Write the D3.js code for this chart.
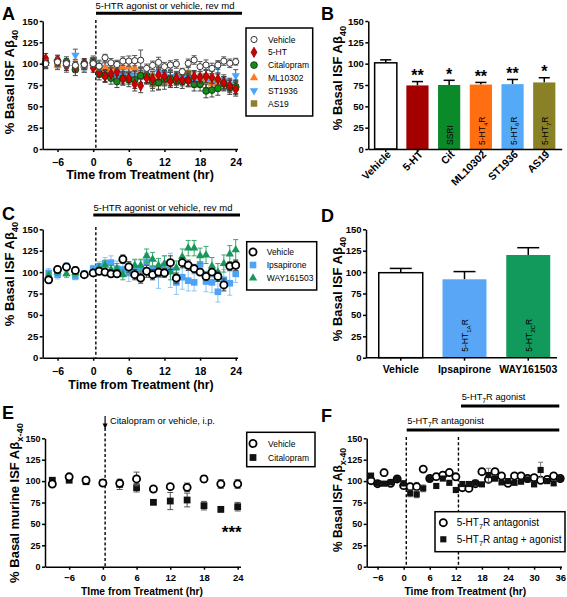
<!DOCTYPE html>
<html><head><meta charset="utf-8">
<script src="https://cdn.jsdelivr.net/npm/d3@7"></script>
<style>
body{margin:0;background:#fff}
svg{display:block}
text{font-family:"Liberation Sans",Arial,Helvetica,sans-serif}
</style>
</head><body>
<svg id="c" width="567" height="597"></svg>
<script>
// ===== DATA =====
// Panel A
const hoursA = [-8,-6,-4.5,-3,-1.5,0,1,2,3,4,5,6,7,8,9,10,11,12,13,14,15,16,17,18,19,20,21,22,23,24];
const vehA   = [100,102,100,98,99,100, 97,107,101,99,103,103,103.5,104,94.5,98,101.5,96.5,98.4,99.6,90.6,100.4,104.3,96.5,98.4,94.5,98.4,103,100.4,102.3];
const vehAe  = [5,5,5,4,4,4, 5,4,5,5,5,6,6,12,5,5,6,5,5,5,4,5,5,6,6,6,5,5,5,4];
const htA    = [106,104,98,96,100,95, 90,85,88,90,82,83,76,74,83,82,87,85,79,83,81,80,85,84,85,84,82,78,74,70];
const htAe   = [6,6,6,6,5,5, 6,7,7,7,7,7,8,8,7,7,7,7,7,7,7,7,7,7,7,7,7,7,7,8];
const citA   = [101,103,102,93,100,101, 88,86,83,79,83,81,81,86,86,79,78,82,82,80,79,81,76,76,68,69,71,77,72,73];
const citAe  = [6,6,6,7,6,5, 7,7,7,7,8,8,10,9,8,8,8,8,8,8,8,8,8,8,8,8,8,8,8,8];
const mlA    = [100,98,100,100,98,100, 93,95,94,97,96,96,95,90,88,85,87,85,84,82,82,80,85,80,78,76,77,76,74,74];
const mlAe   = [5,5,5,5,5,5, 6,6,6,6,6,6,6,6,6,6,6,6,6,6,6,6,6,6,6,6,6,6,6,6];
const stA    = [99,101,96,110,95,102, 98,96,88,85,89,88,86,89,84,84,90,88,85,82,83,84,79,80,79,77,96,80,76,86];
const stAe   = [5,5,6,7,5,5, 6,6,7,7,7,7,7,7,7,7,7,7,7,7,7,7,7,7,7,7,7,7,7,7];
const asA    = [101,101,100,96,96,104, 92,90,92,95,85,88,84,86,85,76,77,78,82,83,84,89,82,80,85,80,79,76,74,72];
const asAe   = [6,6,6,6,6,5, 7,7,7,7,8,8,8,8,8,8,8,8,8,8,8,8,8,8,8,8,8,8,8,8];
const legendA = ["Vehicle","5-HT","Citalopram","ML10302","ST1936","AS19"];

// Panel B
const catsB  = ["Vehicle","5-HT","Cit","ML10302","ST1936","AS19"];
const meanB  = [101,74.5,75,75.5,76,78];
const semB   = [3.5,4.5,5.5,2.5,5.5,5.5];
const starsB = ["","**","*","**","**","*"];
const innerB = ["","","SSRI","5-HT{4}R","5-HT{6}R","5-HT{7}R"];
const colB   = ["#ffffff","#a50000","#0b8a2a","#ff6e10","#55aaf7","#8a8026"];

// Panel C
const hoursC = [-7.5,-6,-4.5,-3,-1.5,0,1,2,3,4,5,6,7,8,9,10,11,12,13,14,15,16,17,18,19,20,21,22,23,24];
const vehC   = [91,103,106,102,97,99, 101,100,98,98,115,106,97,93,101,97,100,99,111,93,111,108,104,100,95,100,95,85,107,108];
const vehCe  = [4,3,4,4,3,3, 4,3,3,3,5,6,6,6,7,6,5,5,8,6,6,6,5,4,5,4,6,7,5,6];
const ipsC   = [99,97,106,95,98,104, 106,110,111,104,103,99,104,104,112,104,97,107,102,88,94,90,88,109,89,88,77,91,87,98];
const ipsCe  = [5,5,5,4,4,4, 6,7,8,9,9,10,10,10,10,12,16,12,20,14,14,12,10,12,12,12,12,12,14,10];
const wayC   = [96,100,98,99,97,100, 105,108,103,104,97,105,108,108,119,115,108,110,100,105,118,128,128,119,120,107,100,110,121,126];
const wayCe  = [4,4,4,4,3,3, 5,6,5,6,6,7,7,7,8,8,8,9,9,8,9,9,9,9,10,10,10,10,10,12];
const legendC = ["Vehicle","Ipsapirone","WAY161503"];

// Panel D
const catsD  = ["Vehicle","Ipsapirone","WAY161503"];
const meanD  = [99.3,91.6,120];
const semD   = [5,9,8.5];
const innerD = ["","5-HT{1A}R","5-HT{2C}R"];
const colD   = ["#ffffff","#58a6f5","#129a5c"];

// Panel E
const hoursE = [-9,-6,-3,0,3,6,9,12,15,18,21,24];
const vehE   = [96.6,105,101,97.8,97.4,102.5,90.8,93.5,92.7,102.5,96.6,96.6];
const vehEe  = [2,2,2,3,3,8,2,3,5,4,5,5];
const citE   = [101,101,99.3,98.2,96.2,92.3,75.2,76.7,77.9,71.3,67,70.1];
const citEe  = [2,2,2,2,6,5,2,10,8,5,3,5];
const legendE = ["Vehicle","Citalopram"];

// Panel F
const hoursF = [-7.5,-6,-4.5,-3,-1.5,0,1.5,3,4.5,6,7.5,9,10.5,12,13.5,15,16.5,18,19.5,21,22.5,24,25.5,27,28.5,30,31.5,33,34.5,36];
const antF   = [100.5,97,109.9,97.4,102.5,94.7,93.5,93.5,114,103,105.2,107,110,105,92.3,91.5,97,111,102,111,106,97.4,106,106,103,104,101,102,106,103];
const antFe  = [2,2,4,2,2,3,4,5,3,2,2,2,2,2,2,2,2,3,3,3,3,3,2,2,2,2,2,2,2,2];
const agoF   = [106.4,97.4,97,98.5,102.5,97.4,85.7,84.5,91.5,103,94.3,103,98,89.6,96.6,96.6,98,96.2,107,103,98.5,100,98,99.3,102,96.2,113,100,97.4,102.5];
const agoFe  = [2,2,2,2,2,3,4,4,4,2,2,2,2,2,2,2,2,2,8,3,2,2,2,2,2,2,9,2,2,2];
const legendF = ["5-HT{7}R antagonist","5-HT{7}R antag + agonist"];

const yTicks = [0,25,50,75,100,125,150];
const xTicks24 = [-6,0,6,12,18,24];
const xTicks36 = [-6,0,6,12,18,24,30,36];

// ===== DRAWING =====
const svg = d3.select("#c");
svg.append("rect").attr("width",567).attr("height",597).attr("fill","#fff");

function rich(t, str, size){
  const parts = str.split(/(\{[^}]*\})/).filter(s=>s.length);
  let inSub=false;
  parts.forEach(p=>{
    if(p[0]==="{"){
      t.append("tspan").attr("font-size",size*0.72).attr("dy",size*0.32).text(p.slice(1,-1));
      inSub=true;
    } else {
      t.append("tspan").attr("font-size",size).attr("dy",inSub?-size*0.32:0).text(p);
      inSub=false;
    }
  });
}
function label(x,y,str,o={}){
  const size=o.size||10;
  const t=svg.append("text").attr("x",x).attr("y",y)
    .attr("font-size",size).attr("font-weight",o.bold?"bold":"normal")
    .attr("text-anchor",o.anchor||"start").attr("fill",o.fill||"#000");
  if(o.rotate!=null) t.attr("transform",`rotate(${o.rotate},${x},${y})`);
  rich(t,str,size);
  return t;
}
function styleAxis(g,fs){
  g.select(".domain").attr("stroke","#000").attr("stroke-width",1.5);
  g.selectAll(".tick line").attr("stroke","#000").attr("stroke-width",1.5);
  g.selectAll(".tick text").attr("font-size",fs).attr("font-weight","bold").attr("fill","#000")
   .attr("font-family",'"Liberation Sans",Arial,sans-serif');
}
function yAxis(y,x0,fs){
  const g=svg.append("g").attr("transform",`translate(${x0},0)`)
    .call(d3.axisLeft(y).tickValues(yTicks).tickSize(3).tickPadding(1.5).tickSizeOuter(0));
  styleAxis(g,fs);
}
function xAxis(x,y0,ticks,fs,pad){
  const g=svg.append("g").attr("transform",`translate(0,${y0})`)
    .call(d3.axisBottom(x).tickValues(ticks).tickSize(3).tickPadding(pad).tickSizeOuter(0).tickFormat(d3.format("d")));
  styleAxis(g,fs);
}
function series(x,y,hours,vals,errs,o){
  const eg=svg.append("g").attr("stroke",o.err).attr("stroke-width",1).attr("fill","none");
  const cap=o.cap||2.5;
  hours.forEach((h,i)=>{
    const cx=x(h), y1=y(vals[i]+errs[i]), y2=y(vals[i]-errs[i]);
    eg.append("line").attr("x1",cx).attr("x2",cx).attr("y1",y1).attr("y2",y2);
    eg.append("line").attr("x1",cx-cap).attr("x2",cx+cap).attr("y1",y1).attr("y2",y1);
    eg.append("line").attr("x1",cx-cap).attr("x2",cx+cap).attr("y1",y2).attr("y2",y2);
  });
  const d=d3.symbol(o.type,o.size)();
  svg.append("g").selectAll("path").data(hours).join("path")
    .attr("transform",(h,i)=>`translate(${x(h)},${y(vals[i])})${o.rot?" rotate(180)":""}`)
    .attr("d",d).attr("fill",o.fill).attr("stroke",o.stroke||"none").attr("stroke-width",o.sw||1);
}
function legendSym(cx,cy,o){
  svg.append("path").attr("transform",`translate(${cx},${cy})${o.rot?" rotate(180)":""}`)
    .attr("d",d3.symbol(o.type,o.size)()).attr("fill",o.fill).attr("stroke",o.stroke||"none").attr("stroke-width",o.sw||1);
}
function box(x0,y0,x1,y1){
  svg.append("rect").attr("x",x0).attr("y",y0).attr("width",x1-x0).attr("height",y1-y0)
    .attr("fill","#fff").attr("stroke","#000").attr("stroke-width",1.5);
}
function hbar(x0,x1,y){
  svg.append("line").attr("x1",x0).attr("x2",x1).attr("y1",y).attr("y2",y).attr("stroke","#000").attr("stroke-width",3);
}
function dashV(x,y0,y1){
  svg.append("line").attr("x1",x).attr("x2",x).attr("y1",y0).attr("y2",y1)
    .attr("stroke","#000").attr("stroke-width",1.4).attr("stroke-dasharray","3,2.2");
}

// ---------- Panel A ----------
const xA=d3.scaleLinear([-8.5,24.3],[42.7,237.5]);
const yA=d3.scaleLinear([0,150],[149,21]);
const stA_ = {
  veh:{type:d3.symbolCircle,size:30,fill:"#fff",stroke:"#333",sw:1,err:"#555"},
  ht:{type:d3.symbolDiamond,size:30,fill:"#d00000",stroke:"#8a0000",sw:0.8,err:"#444"},
  cit:{type:d3.symbolCircle,size:36,fill:"#168a1a",stroke:"#063006",sw:0.8,err:"#444"},
  ml:{type:d3.symbolTriangle,size:30,fill:"#ff7a22",err:"#555"},
  st:{type:d3.symbolTriangle,size:30,fill:"#4aa4ff",rot:true,err:"#555"},
  as:{type:d3.symbolSquare,size:42,fill:"#8c7f30",err:"#555"}
};
dashV(xA(0.45),20,149);
series(xA,yA,hoursA,asA,asAe,stA_.as);
series(xA,yA,hoursA,stA,stAe,stA_.st);
series(xA,yA,hoursA,mlA,mlAe,stA_.ml);
series(xA,yA,hoursA,citA,citAe,stA_.cit);
series(xA,yA,hoursA,htA,htAe,stA_.ht);
series(xA,yA,hoursA,vehA,vehAe,stA_.veh);
yAxis(yA,42.7,9.5);
xAxis(xA,149,xTicks24,10.5,6.5);
hbar(96,242,13.3);
label(165,8.8,"5-HTR agonist or vehicle, rev md",{size:9.5,anchor:"middle"});
label(13.5,82,"% Basal ISF Aβ{40}",{size:13,bold:true,anchor:"middle",rotate:-90});
label(140,179,"Time from Treatment (hr)",{size:12.5,bold:true,anchor:"middle"});
label(2,20,"A",{size:18,bold:true});
box(246,28,312.7,116);
const styA=[stA_.veh,stA_.ht,stA_.cit,stA_.ml,stA_.st,stA_.as];
legendA.forEach((n,i)=>{
  const cy=39.5+i*12.8;
  legendSym(254,cy,styA[i]);
  label(268,cy+3,n,{size:8.5});
});

// ---------- Panel B ----------
const xB=d3.scaleBand(catsB,[368.3,561.7]).paddingInner(0.3).paddingOuter(0.2);
const yB=d3.scaleLinear([0,150],[149,21]);
catsB.forEach((c,i)=>{
  const x0=xB(c), bw=xB.bandwidth(), cx=x0+bw/2;
  const top=yB(meanB[i]), et=yB(meanB[i]+semB[i]);
  svg.append("line").attr("x1",cx).attr("x2",cx).attr("y1",top).attr("y2",et).attr("stroke","#000").attr("stroke-width",1.5);
  svg.append("line").attr("x1",cx-bw/4).attr("x2",cx+bw/4).attr("y1",et).attr("y2",et).attr("stroke","#000").attr("stroke-width",1.5);
  svg.append("rect").attr("x",x0).attr("y",top).attr("width",bw).attr("height",yB(0)-top)
    .attr("fill",colB[i]).attr("stroke",i===0?"#000":"none").attr("stroke-width",1.5);
  if(starsB[i]) label(cx,et-0.5,starsB[i],{size:16,bold:true,anchor:"middle"});
  if(innerB[i]) label(cx+4,145,innerB[i],{size:8.5,rotate:-90});
  label(cx+6,155,c,{size:10.5,bold:true,anchor:"end",rotate:-45});
});
yAxis(yB,368.3,9.5);
{
  const g=svg.append("g").attr("transform","translate(0,149)")
    .call(d3.axisBottom(xB).tickSize(3).tickSizeOuter(0).tickFormat(""));
  styleAxis(g,9);
}
label(342,78,"% Basal ISF Aβ{40}",{size:13,bold:true,anchor:"middle",rotate:-90});
label(321,20,"B",{size:18,bold:true});

// ---------- Panel C ----------
const xC=d3.scaleLinear([-8.5,24.3],[42.7,237.5]);
const yC=d3.scaleLinear([0,150],[357.7,229.3]);
const stC_={
  veh:{type:d3.symbolCircle,size:40,fill:"#fff",stroke:"#000",sw:1.8,err:"#444"},
  ips:{type:d3.symbolSquare,size:44,fill:"#4da3f5",err:"#8cc6f8"},
  way:{type:d3.symbolTriangle,size:30,fill:"#17985a",err:"#3aa86a"}
};
dashV(xC(0.45),227,357.7);
series(xC,yC,hoursC,ipsC,ipsCe,stC_.ips);
series(xC,yC,hoursC,wayC,wayCe,stC_.way);
series(xC,yC,hoursC,vehC,vehCe,stC_.veh);
yAxis(yC,42.7,9.5);
xAxis(xC,357.7,xTicks24,10.5,6.5);
hbar(93.3,240,215);
label(163,211,"5-HTR agonist or vehicle, rev md",{size:9.5,anchor:"middle"});
label(13.5,274,"% Basal ISF Aβ{40}",{size:13,bold:true,anchor:"middle",rotate:-90});
label(141,389,"Time from Treatment (hr)",{size:12.3,bold:true,anchor:"middle"});
label(2,220,"C",{size:18,bold:true});
box(246.7,241.7,316.7,290);
[stC_.veh,stC_.ips,stC_.way].forEach((s,i)=>{
  const cy=252+i*13;
  legendSym(253,cy,s);
  label(266.7,cy+3,legendC[i],{size:8.5});
});

// ---------- Panel D ----------
const xD=d3.scaleBand(catsD,[366,563]).paddingInner(0.31).paddingOuter(0.2);
const yD=d3.scaleLinear([0,150],[357.7,229.3]);
catsD.forEach((c,i)=>{
  const x0=xD(c), bw=xD.bandwidth(), cx=x0+bw/2;
  const top=yD(meanD[i]), et=yD(meanD[i]+semD[i]);
  svg.append("line").attr("x1",cx).attr("x2",cx).attr("y1",top).attr("y2",et).attr("stroke","#000").attr("stroke-width",1.5);
  svg.append("line").attr("x1",cx-bw/4).attr("x2",cx+bw/4).attr("y1",et).attr("y2",et).attr("stroke","#000").attr("stroke-width",1.5);
  svg.append("rect").attr("x",x0).attr("y",top).attr("width",bw).attr("height",yD(0)-top)
    .attr("fill",colD[i]).attr("stroke",i===0?"#000":"none").attr("stroke-width",1.5);
  if(innerD[i]) label(cx+4,351.7,innerD[i],{size:8.5,rotate:-90});
  label(cx,373,c,{size:10.5,bold:true,anchor:"middle"});
});
yAxis(yD,366,9.5);
{
  const g=svg.append("g").attr("transform","translate(0,357.7)")
    .call(d3.axisBottom(xD).tickSize(3).tickSizeOuter(0).tickFormat(""));
  styleAxis(g,9);
  g.select(".domain").attr("d","M366,0H557");
}
label(342,289,"% Basal ISF Aβ{40}",{size:13,bold:true,anchor:"middle",rotate:-90});
label(321,221.7,"D",{size:18,bold:true});

// ---------- Panel E ----------
const xE=d3.scaleLinear([-10.3,24.5],[45,240.5]);
const yE=d3.scaleLinear([0,150],[566.7,438.3]);
const stE_={
  veh:{type:d3.symbolCircle,size:40,fill:"#fff",stroke:"#000",sw:1.8,err:"#555",cap:3},
  cit:{type:d3.symbolSquare,size:46,fill:"#111",err:"#555",cap:3}
};
dashV(xE(0.4),428,566.7);
series(xE,yE,hoursE,citE,citEe,stE_.cit);
series(xE,yE,hoursE,vehE,vehEe,stE_.veh);
yAxis(yE,45,9);
xAxis(xE,566.7,xTicks24,9.5,4.5);
// arrow
svg.append("line").attr("x1",xE(0.4)).attr("x2",xE(0.4)).attr("y1",416).attr("y2",425).attr("stroke","#000").attr("stroke-width",1.2);
svg.append("path").attr("d",`M${xE(0.4)-2.5},423.5L${xE(0.4)+2.5},423.5L${xE(0.4)},429Z`).attr("fill","#000");
label(110,424.3,"Citalopram or vehicle, i.p.",{size:9.3});
label(241.7,538,"***",{size:17,bold:true,anchor:"end"});
label(19,503,"% Basal murine ISF Aβ{x-40}",{size:13,bold:true,anchor:"middle",rotate:-90});
label(142,594.5,"TIme from Treatment (hr)",{size:10.3,bold:true,anchor:"middle"});
label(2,419,"E",{size:18,bold:true});
box(246.7,432.3,315,466.7);
[stE_.veh,stE_.cit].forEach((s,i)=>{
  const cy=443.5+i*14;
  legendSym(253,cy,s);
  label(268,cy+3,legendE[i],{size:8.5});
});

// ---------- Panel F ----------
const xF=d3.scaleLinear([-8.5,36.3],[366.7,561.5]);
const yF=d3.scaleLinear([0,150],[566.7,438.3]);
const stF_={
  ant:{type:d3.symbolCircle,size:40,fill:"#fff",stroke:"#000",sw:1.8,err:"#777",cap:2.5},
  ago:{type:d3.symbolSquare,size:38,fill:"#111",err:"#777",cap:2.5}
};
dashV(xF(0.6),437,566.7);
dashV(xF(12.6),437,566.7);
series(xF,yF,hoursF,antF,antFe,stF_.ant);
series(xF,yF,hoursF,agoF,agoFe,stF_.ago);
yAxis(yF,366.7,9);
xAxis(xF,566.7,xTicks36,9.5,4.5);
hbar(406.7,559.3,430);
hbar(461,559.3,406);
label(407.3,424.3,"5-HT{7}R antagonist",{size:9.3});
label(461.7,400,"5-HT{7}R agonist",{size:9.3});
label(342,500,"% Basal ISF Aβ{x-40}",{size:12,bold:true,anchor:"middle",rotate:-90});
label(465.3,594.5,"Time from Treatment (hr)",{size:10.3,bold:true,anchor:"middle"});
label(321,421.7,"F",{size:18,bold:true});
box(435,511.7,565,551.7);
[stF_.ant,stF_.ago].forEach((s,i)=>{
  const cy=522.7+i*16.6;
  legendSym(443.3,cy,s);
  label(456.7,cy+3.5,legendF[i],{size:10});
});
</script>
</body></html>
